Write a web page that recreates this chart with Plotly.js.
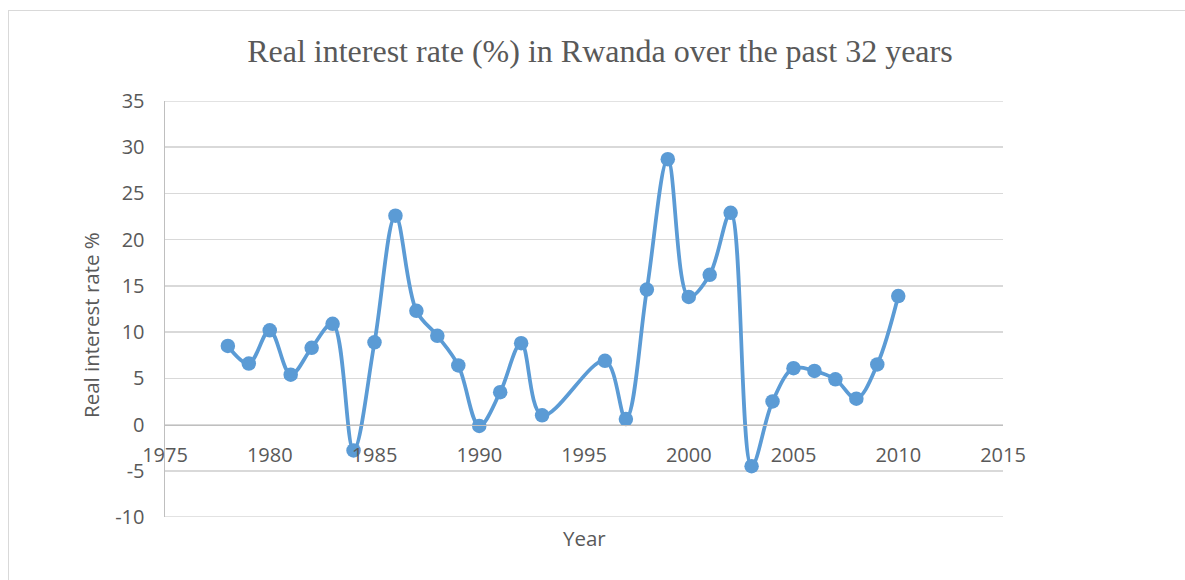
<!DOCTYPE html>
<html>
<head>
<meta charset="utf-8">
<script src="https://cdn.plot.ly/plotly-3.0.1.min.js"></script>
<style>
  html, body { margin: 0; padding: 0; background: #fff; }
  #chart { width: 1185px; height: 580px; position: absolute; left: 0; top: 0; }
  #frame { position: absolute; left: 8px; top: 10px; width: 1177px; height: 570px;
           border-left: 1.5px solid #d9d9d9; border-top: 1.5px solid #d9d9d9;
           pointer-events: none; box-sizing: border-box; }
</style>
</head>
<body>
<div id="chart"></div>
<div id="frame"></div>
<script>
// Data
const years = [1978, 1979, 1980, 1981, 1982, 1983, 1984, 1985, 1986, 1987, 1988, 1989,
               1990, 1991, 1992, 1993, 1996, 1997, 1998, 1999, 2000, 2001, 2002, 2003,
               2004, 2005, 2006, 2007, 2008, 2009, 2010];
const realInterestRate = [8.5, 6.6, 10.2, 5.4, 8.3, 10.9, -2.8, 8.9, 22.6, 12.3, 9.6, 6.4,
                          -0.15, 3.5, 8.8, 1.0, 6.9, 0.6, 14.6, 28.7, 13.8, 16.2, 22.9, -4.5,
                          2.5, 6.1, 5.8, 4.9, 2.8, 6.5, 13.9];
const xTicks = [1975, 1980, 1985, 1990, 1995, 2000, 2005, 2010, 2015];
const yTicks = [-10, -5, 0, 5, 10, 15, 20, 25, 30, 35];

const titleText = 'Real interest rate (%) in Rwanda over the past 32 years';
const yTitleText = 'Real interest rate %';
const xTitleText = 'Year';

const txtColor = '#595959';
const sansFont = '"Open Sans", "Noto Sans", sans-serif';

const trace = {
  x: years,
  y: realInterestRate,
  type: 'scatter',
  mode: 'lines+markers',
  line: { color: '#5B9BD5', width: 3.75, shape: 'spline', smoothing: 1 },
  marker: { color: '#5B9BD5', size: 14.5 },
  hoverinfo: 'x+y'
};

const yMin = -10, yMax = 35;

const layout = {
  width: 1185,
  height: 580,
  margin: { l: 165, r: 182, t: 101, b: 63 },
  paper_bgcolor: '#ffffff',
  plot_bgcolor: '#ffffff',
  showlegend: false,
  title: {
    text: titleText,
    font: { family: '"Liberation Serif", "Times New Roman", serif', size: 32, color: txtColor },
    x: 0.519, xanchor: 'center', xref: 'paper',
    y: 0.912, yanchor: 'middle', yref: 'container'
  },
  xaxis: {
    range: [1975, 2015],
    tickvals: xTicks,
    ticktext: xTicks.map(String),
    showgrid: false,
    zeroline: false,
    showline: true,
    linecolor: '#bfbfbf',
    linewidth: 1.5,
    anchor: 'free',
    position: (0 - yMin) / (yMax - yMin),
    ticks: '',
    ticklabelstandoff: 12,
    tickfont: { family: sansFont, size: 20, color: txtColor },
    fixedrange: true
  },
  yaxis: {
    range: [yMin, yMax],
    tickvals: yTicks,
    ticktext: yTicks.map(String),
    showgrid: true,
    gridcolor: '#d9d9d9',
    gridwidth: 1.5,
    zeroline: false,
    showline: true,
    linecolor: '#bfbfbf',
    linewidth: 1.5,
    ticks: '',
    ticklabelstandoff: 15,
    tickfont: { family: sansFont, size: 20, color: txtColor },
    fixedrange: true
  },
  shapes: [
    { type: 'line', xref: 'paper', yref: 'y', x0: 0, x1: 1, y0: yMin, y1: yMin,
      line: { color: '#d9d9d9', width: 1.5 }, layer: 'below' },
    { type: 'line', xref: 'paper', yref: 'y', x0: 0, x1: 1, y0: yMax, y1: yMax,
      line: { color: '#d9d9d9', width: 1.5 }, layer: 'below' }
  ],
  annotations: [
    {
      text: yTitleText,
      xref: 'paper', yref: 'paper',
      x: (91 - 165) / 838, y: (517 - 325) / 416,
      xanchor: 'center', yanchor: 'middle',
      textangle: -90,
      showarrow: false,
      font: { family: sansFont, size: 20.5, color: txtColor }
    },
    {
      text: xTitleText,
      xref: 'paper', yref: 'paper',
      x: 0.5, y: (517 - 538) / 416,
      xanchor: 'center', yanchor: 'middle',
      showarrow: false,
      font: { family: sansFont, size: 20.5, color: txtColor }
    }
  ]
};

Plotly.newPlot('chart', [trace], layout, { displayModeBar: false, staticPlot: true });
</script>
</body>
</html>
